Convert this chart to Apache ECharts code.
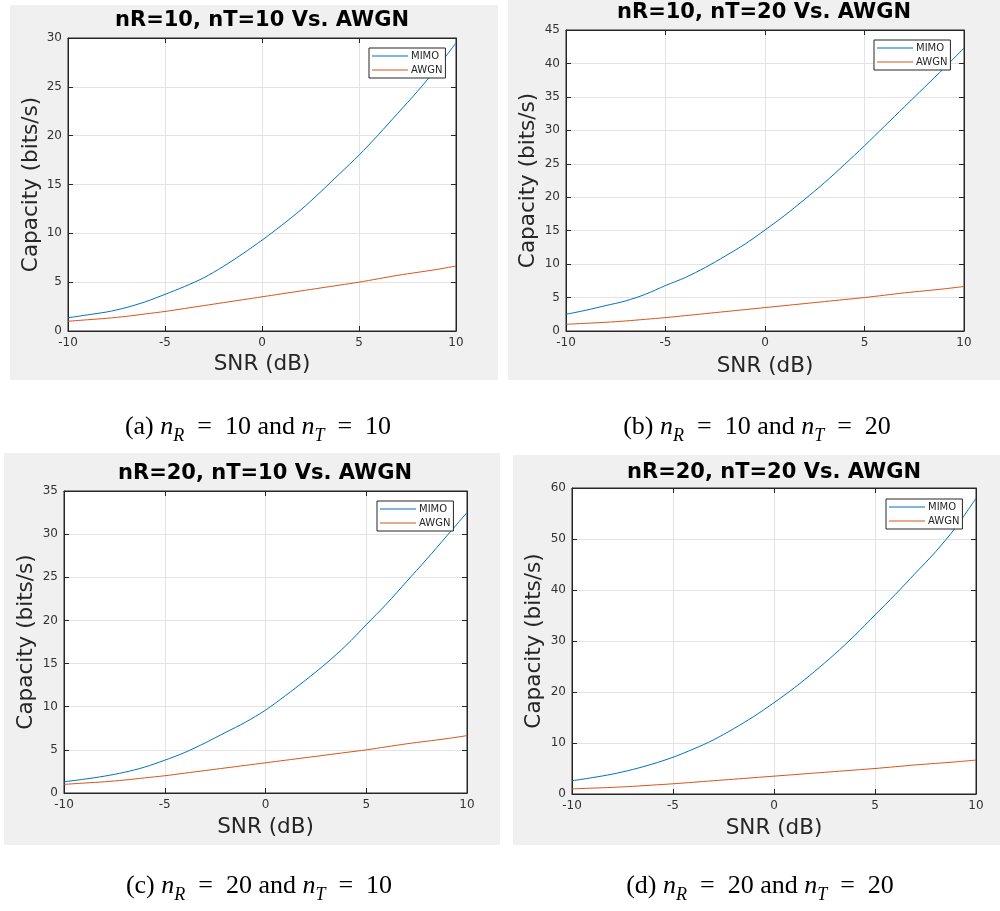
<!DOCTYPE html>
<html><head><meta charset="utf-8">
<script src="https://cdn.jsdelivr.net/npm/echarts@6/dist/echarts.min.js"></script>
<style>html,body{margin:0;padding:0;background:#fff}#c{width:1000px;height:911px}</style>
</head><body><div id="c"></div>
<script>
// ---- data ----
const SNR = [-10,-9,-8,-7,-6,-5,-4,-3,-2,-1,0,1,2,3,4,5,6,7,8,9,10];
const MIMO_R10_T10 = [1.35,1.65,1.95,2.4,3.0,3.75,4.55,5.45,6.6,7.9,9.3,10.8,12.4,14.2,16.1,18.0,20.1,22.3,24.5,26.9,29.5];
const MIMO_R10_T20 = [2.5,3.1,3.8,4.5,5.5,6.8,8.0,9.5,11.2,13.0,15.1,17.3,19.7,22.2,24.9,27.7,30.6,33.5,36.4,39.3,42.3];
const MIMO_R20_T10 = [1.3,1.6,1.95,2.4,3.0,3.8,4.7,5.8,7.0,8.2,9.6,11.3,13.1,15.0,17.1,19.5,21.9,24.5,27.1,29.8,32.5];
const MIMO_R20_T20 = [2.6,3.2,3.9,4.8,5.9,7.2,8.8,10.6,12.8,15.2,17.9,20.8,24.0,27.4,31.1,35.1,39.1,43.3,47.5,52.3,58.0];
const AWGN = [1.0,1.15,1.3,1.5,1.75,2.0,2.3,2.6,2.9,3.2,3.5,3.8,4.1,4.4,4.7,5.0,5.35,5.7,6.0,6.3,6.65];
const TITLES = ['nR=10, nT=10 Vs. AWGN','nR=10, nT=20 Vs. AWGN','nR=20, nT=10 Vs. AWGN','nR=20, nT=20 Vs. AWGN'];
const CAPTION_TAGS = ['(a)','(b)','(c)','(d)'];
const CAPTION_NR = ['10','10','20','20'];
const CAPTION_NT = ['10','20','10','20'];
const X_NAME = 'SNR (dB)';
const Y_NAME = 'Capacity (bits/s)';
const SERIES_NAMES = ['MIMO','AWGN'];
const MIMO_SETS = [MIMO_R10_T10, MIMO_R10_T20, MIMO_R20_T10, MIMO_R20_T20];
const Y_MAX = [30,45,35,60];
const Y_STEP = [5,5,5,10];

// ---- layout ----
const LAYOUT = [
  {bg:[10,5,488,375], grid:{left:68,top:38,width:388,height:293}, title:[262,20.5], legend:[369,48], cap:[258,428], ygap:26, xgap:22},
  {bg:[508,0,492,380], grid:{left:566,top:30,width:398,height:301}, title:[764,12.7], legend:[874,40], cap:[757,428], ygap:27, xgap:24},
  {bg:[4,453,496,392], grid:{left:64,top:491,width:403,height:302}, title:[265,473.4], legend:[377,501], cap:[259,887], ygap:27, xgap:23},
  {bg:[513,455,487,390], grid:{left:572,top:488,width:404,height:306}, title:[774,472.7], legend:[886,499], cap:[760,887], ygap:27, xgap:23}
];
const AXIS_COLOR = '#262626';
const COLORS = ['#0072BD','#D95319'];
const FONT = 'DejaVu Sans';

const chart = echarts.init(document.getElementById('c'), null, {renderer:'canvas'});
const grid = [], xAxis = [], yAxis = [], series = [], legend = [], graphic = [];

LAYOUT.forEach((L, i) => {
  grid.push(Object.assign({show:true, backgroundColor:'#ffffff', borderColor:AXIS_COLOR, borderWidth:1, containLabel:false}, L.grid));
  const tick = {show:true, inside:true, length:5, lineStyle:{color:AXIS_COLOR, width:1}};
  const line = {show:true, onZero:false, lineStyle:{color:AXIS_COLOR, width:1}};
  xAxis.push({gridIndex:i, type:'value', min:-10, max:10, interval:5, position:'bottom',
    axisLine:line, axisTick:tick,
    axisLabel:{color:'#333', fontFamily:FONT, fontSize:12, margin:6},
    splitLine:{show:true, lineStyle:{color:'#e3e3e3', width:1}},
    name:X_NAME, nameLocation:'middle', nameGap:L.xgap,
    nameTextStyle:{fontFamily:FONT, fontSize:21.5, color:AXIS_COLOR}});
  xAxis.push({gridIndex:i, type:'value', min:-10, max:10, interval:5, position:'top',
    axisLine:line, axisTick:tick, axisLabel:{show:false}, splitLine:{show:false}});
  yAxis.push({gridIndex:i, type:'value', min:0, max:Y_MAX[i], interval:Y_STEP[i], position:'left',
    axisLine:line, axisTick:tick,
    axisLabel:{color:'#333', fontFamily:FONT, fontSize:12, margin:6},
    splitLine:{show:true, lineStyle:{color:'#e3e3e3', width:1}},
    name:Y_NAME, nameLocation:'middle', nameGap:L.ygap,
    nameTextStyle:{fontFamily:FONT, fontSize:21.5, color:AXIS_COLOR}});
  yAxis.push({gridIndex:i, type:'value', min:0, max:Y_MAX[i], interval:Y_STEP[i], position:'right',
    axisLine:line, axisTick:tick, axisLabel:{show:false}, splitLine:{show:false}});

  const mimo = MIMO_SETS[i];
  series.push({name:SERIES_NAMES[0], type:'line', xAxisIndex:2*i, yAxisIndex:2*i, symbol:'none', smooth:0.3,
    lineStyle:{color:COLORS[0], width:1}, itemStyle:{color:COLORS[0]}, z:3,
    data:SNR.map((x,k)=>[x, mimo[k]])});
  series.push({name:SERIES_NAMES[1], type:'line', xAxisIndex:2*i, yAxisIndex:2*i, symbol:'none', smooth:0.3,
    lineStyle:{color:COLORS[1], width:1}, itemStyle:{color:COLORS[1]}, z:2,
    data:SNR.map((x,k)=>[x, AWGN[k]])});

  legend.push({data:SERIES_NAMES, left:L.legend[0], top:L.legend[1], orient:'vertical',
    backgroundColor:'#ffffff', borderColor:AXIS_COLOR, borderWidth:1, borderRadius:0,
    padding:[3,3,3,3], icon:'rect', itemWidth:36, itemHeight:1.2, itemGap:4, selectedMode:false,
    textStyle:{fontFamily:FONT, fontSize:10, color:AXIS_COLOR, lineHeight:10, padding:[0,0,0,-2]}});

  graphic.push({type:'rect', z:-10, silent:true,
    shape:{x:L.bg[0], y:L.bg[1], width:L.bg[2], height:L.bg[3]}, style:{fill:'#f0f0f0'}});
  graphic.push({type:'text', z:10, silent:true, x:L.title[0], y:L.title[1],
    style:{text:TITLES[i], fontFamily:FONT, fontWeight:'bold', fontSize:21, fill:'#000',
      align:'center', verticalAlign:'middle', textAlign:'center', textVerticalAlign:'middle'}});
  const capText = '{r|' + CAPTION_TAGS[i] + ' }{i|n}{s|R}{r|\u2002=\u2002' + CAPTION_NR[i] + ' and }{i|n}{s|T}{r|\u2002=\u2002' + CAPTION_NT[i] + '}';
  graphic.push({type:'text', z:10, silent:true, x:L.cap[0], y:L.cap[1],
    style:{text:capText, fill:'#000', align:'center', verticalAlign:'middle', textAlign:'center', textVerticalAlign:'middle',
      rich:{
        r:{fontFamily:'Liberation Serif', fontSize:26, lineHeight:28, verticalAlign:'top', fill:'#000', color:'#000'},
        i:{fontFamily:'Liberation Serif', fontStyle:'italic', fontSize:26, lineHeight:28, verticalAlign:'top', fill:'#000', color:'#000'},
        s:{fontFamily:'Liberation Serif', fontStyle:'italic', fontSize:18, lineHeight:18, padding:[13,0,0,0], verticalAlign:'top', fill:'#000', color:'#000'}
      }}});
});

chart.setOption({
  animation:false,
  backgroundColor:'#ffffff',
  grid, xAxis, yAxis, series, legend, graphic
});
</script></body></html>
